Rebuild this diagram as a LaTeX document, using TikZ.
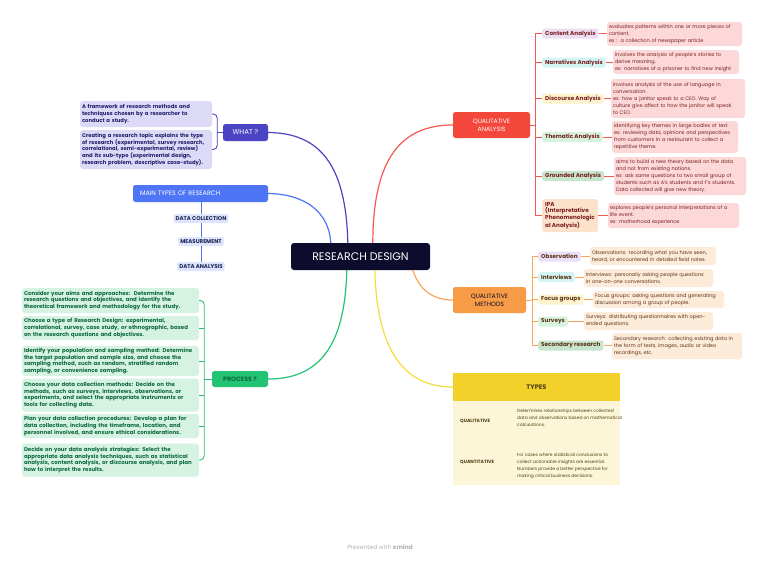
\documentclass[tikz,border=0pt]{standalone}
\usepackage{fontspec}
\setmainfont{Poppins}
\definecolor{cnavy}{HTML}{0D0C2C}
\definecolor{cred}{HTML}{F4473C}
\definecolor{credline}{HTML}{F5584D}
\definecolor{cpink}{HTML}{FCD8D8}
\definecolor{credtxt}{HTML}{7A2020}
\definecolor{corange}{HTML}{F79B46}
\definecolor{corline}{HTML}{F8A65A}
\definecolor{cpeach}{HTML}{FDEBD9}
\definecolor{cortxt}{HTML}{5E3415}
\definecolor{cindigo}{HTML}{4B45C6}
\definecolor{clav}{HTML}{DCDAF6}
\definecolor{cindtxt}{HTML}{22206A}
\definecolor{cblue}{HTML}{4E75F5}
\definecolor{cbluel}{HTML}{DDE4FB}
\definecolor{cbluetxt}{HTML}{1C2457}
\definecolor{cgreen}{HTML}{22C374}
\definecolor{cgreenl}{HTML}{D5F2E3}
\definecolor{cgreentxt}{HTML}{0E6A3C}
\definecolor{cyellow}{HTML}{F2D12B}
\definecolor{cyline}{HTML}{F6DC3C}
\definecolor{ccream}{HTML}{FCF5D7}
\definecolor{cytxt}{HTML}{4D4212}
\definecolor{fpurple}{HTML}{EDDDF3}
\definecolor{fcyan}{HTML}{D3F5F3}
\definecolor{fyellow}{HTML}{FDF3CF}
\definecolor{fgreen}{HTML}{D7F3DD}
\definecolor{fgreendk}{HTML}{C6E5CC}
\definecolor{fpeach}{HTML}{FDE2CB}
\definecolor{fobs}{HTML}{EBDEF8}
\tikzset{
  rootbox/.style={fill=cnavy, rounded corners=3pt, text=white, font=\fontsize{11}{13}\selectfont, minimum width=139pt, minimum height=27pt, inner sep=0pt},
  topic/.style={rounded corners=2.5pt, inner sep=0pt, align=center},
  qalabel/.style={rounded corners=2.5pt, inner xsep=3pt, inner ysep=0pt, minimum height=10pt, anchor=west, text=credtxt, font=\fontsize{5.7}{6.6}\selectfont\bfseries},
  qadet/.style={fill=cpink, rounded corners=3pt, inner xsep=2pt, inner ysep=0pt, align=left, text=credtxt, font=\fontsize{5.0}{6.9}\selectfont},
  qmlabel/.style={rounded corners=2.5pt, inner xsep=3pt, inner ysep=0pt, minimum height=10pt, anchor=west, text=cortxt, font=\fontsize{5.7}{6.6}\selectfont\bfseries},
  qmdet/.style={fill=cpeach, rounded corners=3pt, inner xsep=2pt, inner ysep=0pt, align=left, text=cortxt, font=\fontsize{5.0}{6.9}\selectfont},
  whatdet/.style={fill=clav, rounded corners=3pt, inner xsep=2pt, inner ysep=0pt, align=left, text=cindtxt, text width=128pt, font=\fontsize{5.3}{6.9}\selectfont\bfseries},
  procdet/.style={fill=cgreenl, rounded corners=3pt, inner xsep=2pt, inner ysep=0pt, align=left, text=cgreentxt, text width=173pt, font=\fontsize{5.45}{6.6}\selectfont\bfseries},
  mtsub/.style={fill=cbluel, rounded corners=2pt, inner xsep=2pt, inner ysep=0pt, minimum height=9pt, text=cbluetxt, font=\fontsize{5.5}{6}\selectfont\bfseries},
  mainline/.style={line width=1.2pt},
  brline/.style={line width=0.9pt},
}
\begin{document}
\begin{tikzpicture}[x=1pt,y=-1pt]
\fill[white] (0,0) rectangle (768,560);
\useasboundingbox (0,0) rectangle (768,560);

% root
\node[rootbox] (root) at (360.5,256.5) {RESEARCH DESIGN};

% main topics
\node[topic, fill=cred, text=white, minimum width=77pt, minimum height=26pt, font=\fontsize{6.2}{8.2}\selectfont] (qa) at (491.5,125) {QUALITATIVE\\ANALYSIS};
\node[topic, fill=corange, text=cnavy, minimum width=73pt, minimum height=26pt, font=\fontsize{6.2}{8.2}\selectfont] (qm) at (489.5,300) {QUALITATIVE\\METHODS};
\node[topic, fill=cindigo, text=white, minimum width=45pt, minimum height=17pt, font=\fontsize{7}{8}\selectfont] (what) at (245.5,132.5) {WHAT ?};
\node[topic, fill=cblue, text=white, minimum width=135pt, minimum height=17pt, text width=121pt, inner xsep=7pt, align=left, font=\fontsize{6.4}{8}\selectfont] (mt) at (200.5,193.5) {MAIN TYPES OF RESEARCH};
\node[topic, fill=cgreen, text=cgreentxt, minimum width=56pt, minimum height=16pt, font=\fontsize{6.3}{7.5}\selectfont\bfseries] (proc) at (240,379) {PROCESS ?};

% main types sub nodes
\node[mtsub] (dc) at (201,218.5) {DATA COLLECTION};
\node[mtsub] (ms) at (201,241.5) {MEASUREMENT};
\node[mtsub] (da) at (201,266.5) {DATA ANALYSIS};

% what children
\node[whatdet, minimum height=26pt] (w1) at (146,114) {A framework of research methods and\\techniques chosen by a researcher to\\conduct a study.};
\node[whatdet, minimum height=39pt] (w2) at (146,149.5) {Creating a research topic explains the type\\of research (experimental, survey research,\\correlational, semi-experimental, review)\\and its sub-type (experimental design,\\research problem, descriptive case-study).};

% process children
\node[procdet, minimum height=25pt] (p1) at (110.5,300.5) {Consider your aims and approaches:\ \ Determine the\\research questions and objectives, and identify the\\theoretical framework and methodology for the study.};
\node[procdet, minimum height=24pt] (p2) at (110.5,328) {Choose a type of Research Design: experimental,\\correlational, survey, case study, or ethnographic, based\\on the research questions and objectives.};
\node[procdet, minimum height=30pt] (p3) at (110.5,361) {Identify your population and sampling method: Determine\\the target population and sample size, and choose the\\sampling method, such as random, stratified random\\sampling, or convenience sampling.};
\node[procdet, minimum height=33pt] (p4) at (110.5,395) {Choose your data collection methods: Decide on the\\methods, such as surveys, interviews, observations, or\\experiments, and select the appropriate instruments or\\tools for collecting data.};
\node[procdet, minimum height=24pt] (p5) at (110.5,426) {Plan your data collection procedures: Develop a plan for\\data collection, including the timeframe, location, and\\personnel involved, and ensure ethical considerations.};
\node[procdet, minimum height=33pt] (p6) at (110.5,460) {Decide on your data analysis strategies: Select the\\appropriate data analysis techniques, such as statistical\\analysis, content analysis, or discourse analysis, and plan\\how to interpret the results.};

% qualitative analysis children
\node[qalabel, fill=fpurple] (ca) at (542,33.5) {Content Analysis};
\node[qalabel, fill=fcyan] (na) at (542,62.5) {Narratives Analysis};
\node[qalabel, fill=fyellow] (dca) at (542,98.5) {Discourse Analysis};
\node[qalabel, fill=fgreen] (ta) at (542,137) {Thematic Analysis};
\node[qalabel, fill=fgreendk] (ga) at (542,176) {Grounded Analysis};
\node[qalabel, fill=fpeach, minimum height=33pt, align=left] (ipa) at (542,215.5) {IPA\\(Interpretative\\Phenomenologic\\al Analysis)};

\node[qadet, text width=131pt, minimum height=24pt] (cad) at (674.5,34) {evaluates patterns within one or more pieces of\\content.\\ex :\ \ a collection of newspaper article};
\node[qadet, text width=122pt, minimum height=24pt] (nad) at (676,62) {involves the analysis of people's stories to\\derive meaning.\\ex: narratives of a prisoner to find new insight};
\node[qadet, text width=130pt, minimum height=39pt] (dcad) at (678,98.5) {involves analysis of the use of language in\\conversation.\\ex: how a janitor speak to a CEO. Way of\\culture give affect to how the janitor will speak\\to CEO.};
\node[qadet, text width=122pt, minimum height=32pt] (tad) at (675,137) {identifying key themes in large bodies of text.\\ex: reviewing data, opinions and perspectives\\from customers in a restaurant to collect a\\repetitive theme.};
\node[qadet, text width=128pt, minimum height=38pt] (gad) at (680,176) {aims to build a new theory based on the data\\and not from existing notions.\\ex: ask same questions to two small group of\\students such as A's students and F's students.\\Data collected will give new theory.};
\node[qadet, text width=127pt, minimum height=25pt] (ipad) at (673.5,215.5) {explores people's personal interpretations of a\\life event.\\ex: motherhood experience};

% qualitative methods children
\node[qmlabel, fill=fobs] (ob) at (538,256.5) {Observation};
\node[qmlabel, fill=fcyan] (iv) at (538,277) {Interviews};
\node[qmlabel, fill=fyellow] (fg) at (538,299.5) {Focus groups};
\node[qmlabel, fill=fgreen] (sv) at (538,321.5) {Surveys};
\node[qmlabel, fill=fgreendk] (sr) at (538,345.5) {Secondary research};

\node[qmdet, text width=122pt, minimum height=18pt] (obd) at (653,256) {Observations: recording what you have seen,\\heard, or encountered in detailed field notes.};
\node[qmdet, text width=125pt, minimum height=18pt] (ivd) at (648.5,278) {Interviews: personally asking people questions\\in one-on-one conversations.};
\node[qmdet, text width=127pt, minimum height=17pt] (fgd) at (658.5,299.5) {Focus groups: asking questions and generating\\discussion among a group of people.};
\node[qmdet, text width=125pt, minimum height=18pt] (svd) at (648.5,321) {Surveys: distributing questionnaires with open-\\ended questions.};
\node[qmdet, text width=126pt, minimum height=26pt] (srd) at (677,346) {Secondary research: collecting existing data in\\the form of texts, images, audio or video\\recordings, etc.};

% types table
\node[fill=cyellow, minimum width=167pt, minimum height=28pt, inner sep=0pt, text=cytxt, font=\fontsize{6.6}{8}\selectfont\bfseries] (types) at (536.5,387) {TYPES};
\node[fill=ccream, minimum width=167pt, minimum height=84pt, inner sep=0pt] (tbody) at (536.5,443) {};
\node[anchor=west, inner sep=0pt, text=cytxt, font=\fontsize{4.6}{6}\selectfont\bfseries] (tql) at (460,421) {QUALITATIVE};
\node[anchor=west, inner sep=0pt, text=cytxt, font=\fontsize{4.6}{6}\selectfont\bfseries] (tqt) at (460,462) {QUANTITATIVE};
\node[anchor=west, inner sep=0pt, align=left, text=cytxt, font=\fontsize{4.4}{6.9}\selectfont] (tqld) at (517,417.5) {Determines relationships between collected\\data and observations based on mathematical\\calculations.};
\node[anchor=west, inner sep=0pt, align=left, text=cytxt, font=\fontsize{4.4}{6.9}\selectfont] (tqtd) at (517,466) {For cases where statistical conclusions to\\collect actionable insights are essential.\\Numbers provide a better perspective for\\making critical business decisions.};

% footer
\node[text=black!30, font=\fontsize{6}{8}\selectfont] (foot) at (380,547.5) {Presented with \textbf{xmind}};

% main curves
\draw[mainline, draw=credline] ([xshift=82pt]root.north west) .. controls (373,160) and (400,125) .. (qa.west);
\draw[mainline, draw=cindigo] ([xshift=57pt]root.north west) .. controls (346,165) and (320,133) .. (what.east);
\draw[mainline, draw=cblue] ([xshift=40pt]root.north west) .. controls (329,212) and (305,194) .. (mt.east);
\draw[mainline, draw=cgreen] ([xshift=56pt]root.south west) .. controls (345,345) and (320,379) .. (proc.east);
\draw[mainline, draw=cyline] ([xshift=84pt]root.south west) .. controls (377,352) and (405,387) .. (types.west);
\draw[mainline, draw=corline] ([xshift=122pt]root.south west) .. controls (420,292) and (435,300) .. (qm.west);

% QA brackets
\draw[brline, draw=credline] (qa.east) -- ++(5,0);
\draw[brline, draw=credline] (ca.west) -- ++(-7,0) -- ([xshift=-7pt]ipa.west) -- (ipa.west);
\foreach \n in {na,dca,ta,ga} \draw[brline, draw=credline] (\n.west) -- ++(-7,0);
\foreach \a/\b in {ca/cad,na/nad,dca/dcad,ta/tad,ga/gad,ipa/ipad} \draw[brline, draw=credline] (\a.east) -- (\a.east -| \b.west);

% QM brackets
\draw[brline, draw=corline] (qm.east) -- ++(6,0);
\draw[brline, draw=corline] (ob.west) -- ++(-6,0) -- ([xshift=-6pt]sr.west) -- (sr.west);
\foreach \n in {iv,fg,sv} \draw[brline, draw=corline] (\n.west) -- ++(-6,0);
\foreach \a/\b in {ob/obd,iv/ivd,fg/fgd,sv/svd,sr/srd} \draw[brline, draw=corline] (\a.east) -- (\a.east -| \b.west);

% WHAT bracket
\draw[brline, draw=cindigo] (what.west) -- ++(-6,0);
\draw[brline, draw=cindigo, rounded corners=4pt] (w1.east) -- ++(5,0) -- ([xshift=5pt]w2.east) -- (w2.east);

% main types line
\draw[brline, draw=cblue] (mt.south -| dc.north) -- (dc.north);
\draw[brline, draw=cblue] (dc.south) -- (ms.north);
\draw[brline, draw=cblue] (ms.south) -- (da.north);

% process bracket
\draw[brline, draw=cgreen] (proc.west) -- ++(-8,0);
\draw[brline, draw=cgreen, rounded corners=4pt] (p1.east) -- ++(5,0) -- ([xshift=5pt]p6.east) -- (p6.east);
\foreach \n in {p2,p3,p4,p5} \draw[brline, draw=cgreen] (\n.east) -- ++(5,0);
\end{tikzpicture}
\end{document}
